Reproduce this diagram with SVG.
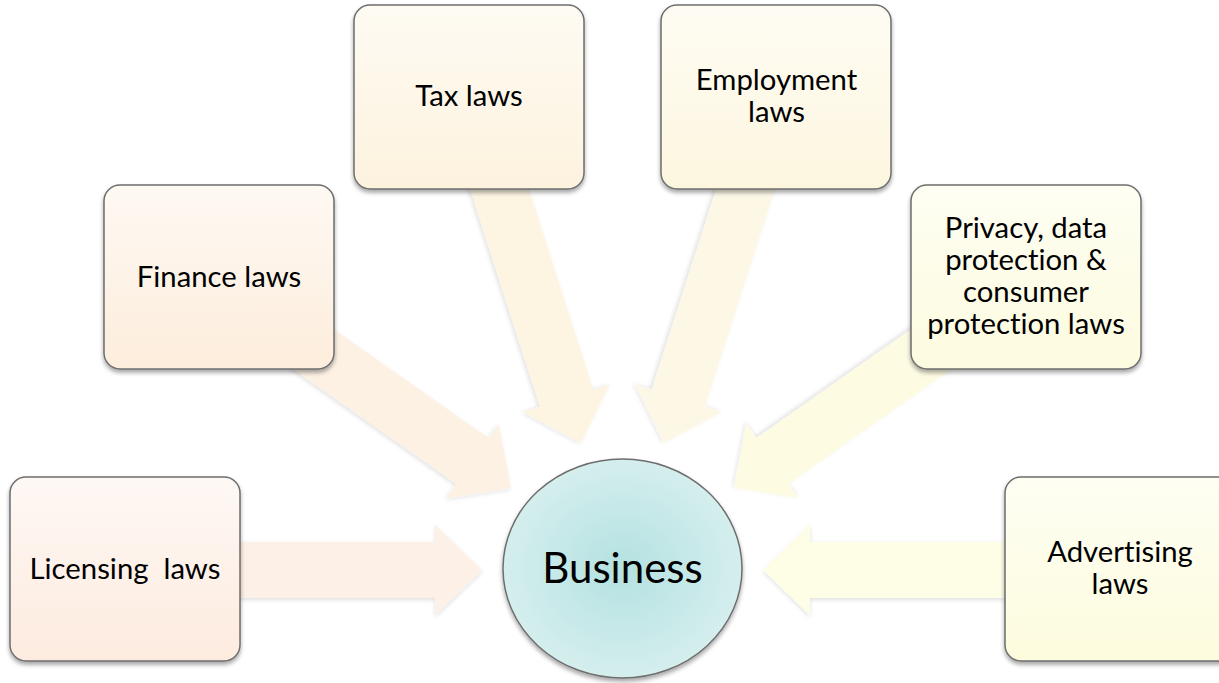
<svg xmlns="http://www.w3.org/2000/svg" width="1219" height="683" viewBox="0 0 1219 683">
<style>
.box{stroke:#6e6e6e;stroke-width:1.5;filter:url(#sh)}
.arr{filter:url(#ash)}
.t{font-family:Lato,"Open Sans","Liberation Sans",sans-serif;font-size:29.3px;fill:#000;text-anchor:middle;font-variant-ligatures:none}
.big{font-size:42px}
</style>
<defs>
<filter id="sh" x="-10%" y="-10%" width="125%" height="125%">
<feDropShadow dx="0" dy="3" stdDeviation="2.2" flood-color="#000" flood-opacity="0.35"/>
</filter>
<filter id="ash" x="-10%" y="-10%" width="125%" height="125%">
<feDropShadow dx="0" dy="2" stdDeviation="2" flood-color="#000" flood-opacity="0.12"/>
</filter>
<linearGradient id="g1" x1="0" y1="0" x2="0" y2="1"><stop offset="0" stop-color="#fef8f4"/><stop offset="1" stop-color="#fdebdf"/></linearGradient>
<linearGradient id="g2" x1="0" y1="0" x2="0" y2="1"><stop offset="0" stop-color="#fef9f3"/><stop offset="1" stop-color="#fdeddc"/></linearGradient>
<linearGradient id="g3" x1="0" y1="0" x2="0" y2="1"><stop offset="0" stop-color="#fefbf3"/><stop offset="1" stop-color="#fdf2de"/></linearGradient>
<linearGradient id="g4" x1="0" y1="0" x2="0" y2="1"><stop offset="0" stop-color="#fefcf3"/><stop offset="1" stop-color="#fdf6df"/></linearGradient>
<linearGradient id="g5" x1="0" y1="0" x2="0" y2="1"><stop offset="0" stop-color="#fefef3"/><stop offset="1" stop-color="#fdfbdf"/></linearGradient>
<linearGradient id="g6" x1="0" y1="0" x2="0" y2="1"><stop offset="0" stop-color="#fefef3"/><stop offset="1" stop-color="#fdfcde"/></linearGradient>
<radialGradient id="gc" cx="0.5" cy="0.5" r="0.5"><stop offset="0" stop-color="#b4e1e1"/><stop offset="1" stop-color="#d5eeee"/></radialGradient>
<path id="ar" d="M-280,-28 L-47,-28 L-47,-45.5 L0,0 L-47,45.5 L-47,28 L-280,28 Z"/>
</defs>

<g id="connectors">
<path class="arr" fill="#fdf0e6" d="M225,542 L435,542 L435,524.5 L482,570 L435,615.5 L435,598 L225,598 Z"/>
<use class="arr" href="#ar" fill="#fdf1e4" transform="translate(511,488) rotate(35.1)"/>
<use class="arr" href="#ar" fill="#fdf4e2" transform="translate(581,443) rotate(72.2)"/>
<use class="arr" href="#ar" fill="#fdf8e6" transform="translate(664,443) rotate(107.8)"/>
<use class="arr" href="#ar" fill="#fefbe3" transform="translate(734,488) rotate(144.9)"/>
<path class="arr" fill="#fefde6" d="M1020,542 L810,542 L810,524.5 L763,570 L810,615.5 L810,598 L1020,598 Z"/>
</g>

<g id="licensing">
<rect class="box" x="10" y="477" width="230" height="184" rx="16" fill="url(#g1)"/>
<text class="t" x="125" y="579" xml:space="preserve">Licensing  laws</text>
</g>
<g id="finance">
<rect class="box" x="104" y="185" width="230" height="184" rx="16" fill="url(#g2)"/>
<text class="t" x="219" y="287">Finance laws</text>
</g>
<g id="tax">
<rect class="box" x="354" y="5" width="230" height="184" rx="16" fill="url(#g3)"/>
<text class="t" x="469" y="106">Tax laws</text>
</g>
<g id="employment">
<rect class="box" x="661" y="5" width="230" height="184" rx="16" fill="url(#g4)"/>
<text class="t" x="776.5" y="89.5">Employment</text>
<text class="t" x="776.5" y="121.5">laws</text>
</g>
<g id="privacy">
<rect class="box" x="911" y="185" width="230" height="184" rx="16" fill="url(#g5)"/>
<text class="t" x="1026" y="238">Privacy, data</text>
<text class="t" x="1026" y="270">protection &amp;</text>
<text class="t" x="1026" y="302">consumer</text>
<text class="t" x="1026" y="334">protection laws</text>
</g>
<g id="advertising">
<rect class="box" x="1005" y="477" width="230" height="184" rx="16" fill="url(#g6)"/>
<text class="t" x="1120" y="562">Advertising</text>
<text class="t" x="1120" y="594">laws</text>
</g>
<g id="business">
<ellipse class="box" cx="622.5" cy="568.5" rx="119.5" ry="109.5" fill="url(#gc)"/>
<text class="t big" x="622.5" y="583">Business</text>
</g>
</svg>
